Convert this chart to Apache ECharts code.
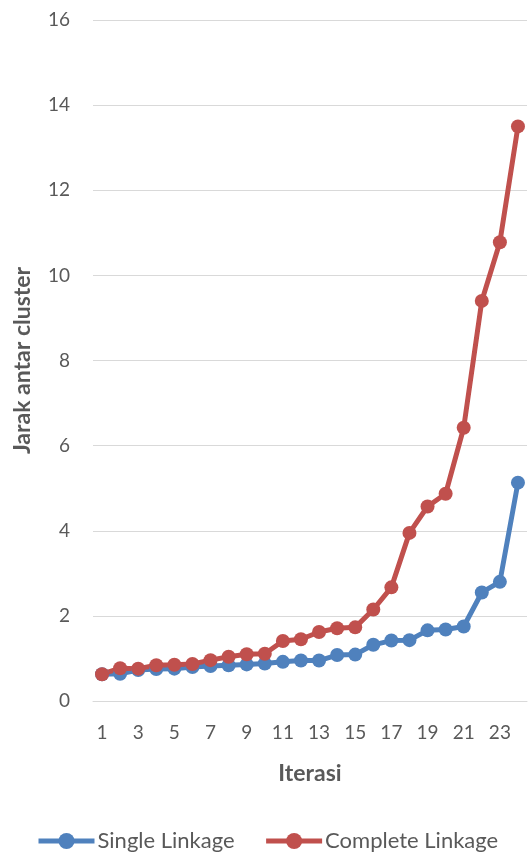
<!DOCTYPE html>
<html>
<head>
<meta charset="utf-8">
<script src="https://cdn.jsdelivr.net/npm/echarts@6/dist/echarts.min.js"></script>
<style>
  html, body { margin: 0; padding: 0; background: #fff; }
  #chart { width: 530px; height: 852px; }
</style>
</head>
<body>
<div id="chart"></div>
<script>
// Iteration numbers 1..24
var iterations = ['1','2','3','4','5','6','7','8','9','10','11','12','13','14','15','16','17','18','19','20','21','22','23','24'];

// Inter-cluster distance per merge step
var singleLinkage = [0.63, 0.64, 0.73, 0.75, 0.76, 0.80, 0.82, 0.84, 0.86, 0.88, 0.92, 0.95, 0.95, 1.08, 1.09, 1.32, 1.42, 1.43, 1.66, 1.68, 1.75, 2.55, 2.80, 5.13];
var completeLinkage = [0.63, 0.77, 0.76, 0.84, 0.85, 0.87, 0.96, 1.04, 1.10, 1.11, 1.41, 1.45, 1.62, 1.71, 1.73, 2.15, 2.67, 3.95, 4.57, 4.87, 6.42, 9.40, 10.78, 13.50];

var seriesNames = ['Single Linkage', 'Complete Linkage'];
var yTitle = 'Jarak antar cluster';
var xTitle = 'Iterasi';

var FONT = 'Lato, "Open Sans", sans-serif';
var TEXT = '#595959';
var GRID = '#D9D9D9';

var chart = echarts.init(document.getElementById('chart'), null, { renderer: 'canvas' });

function lineSeries(name, data, color) {
  return {
    name: name,
    type: 'line',
    data: data,
    symbol: 'circle',
    symbolSize: 14,
    showSymbol: true,
    showAllSymbol: true,
    lineStyle: { color: color, width: 5 },
    itemStyle: { color: color },
    emphasis: { disabled: true },
    animation: false
  };
}

chart.setOption({
  backgroundColor: '#fff',
  animation: false,
  textStyle: { fontFamily: FONT },
  grid: { left: 93, right: 3, top: 20, height: 681, containLabel: false, outerBoundsMode: 'none' },
  legend: {
    data: seriesNames,
    left: 36,
    top: 830,
    padding: 0,
    itemWidth: 56,
    itemHeight: 20,
    itemGap: 29,
    lineStyle: { width: 5 },
    textStyle: { color: TEXT, fontSize: 22, lineHeight: 20, fontFamily: FONT, padding: [0, 0, 0, -2] }
  },
  xAxis: {
    type: 'category',
    data: iterations,
    boundaryGap: true,
    name: xTitle,
    nameLocation: 'middle',
    nameGap: 61,
    nameTextStyle: { color: TEXT, fontSize: 23, fontWeight: 'bold', fontFamily: FONT },
    axisLine: { show: true, lineStyle: { color: GRID, width: 1 } },
    axisTick: { show: false },
    axisLabel: { interval: 1, color: TEXT, fontSize: 19, margin: 22, fontFamily: FONT },
    splitLine: { show: false }
  },
  yAxis: {
    type: 'value',
    min: 0,
    max: 16,
    interval: 2,
    name: yTitle,
    nameLocation: 'middle',
    nameGap: 59,
    nameRotate: 90,
    nameTextStyle: { color: TEXT, fontSize: 23, fontWeight: 'bold', fontFamily: FONT },
    axisLine: { show: false },
    axisTick: { show: false },
    axisLabel: { color: TEXT, fontSize: 19, margin: 23, fontFamily: FONT },
    splitLine: { show: true, lineStyle: { color: GRID, width: 1 } }
  },
  series: [
    lineSeries(seriesNames[0], singleLinkage, '#4F81BD'),
    lineSeries(seriesNames[1], completeLinkage, '#C0504D')
  ]
});
</script>
</body>
</html>
